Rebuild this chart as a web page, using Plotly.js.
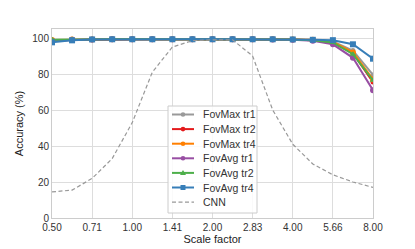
<!DOCTYPE html>
<html>
<head>
<meta charset="utf-8">
<script src="https://cdn.plot.ly/plotly-3.0.1.min.js"></script>
<style>html,body{margin:0;padding:0;background:#fff;}#chart{width:415px;height:249px;}</style>
</head>
<body>
<div id="chart"></div>
<script>
const scaleFactors = [0.5, 0.5946, 0.7071, 0.8409, 1.0, 1.1892, 1.4142, 1.6818, 2.0, 2.3784, 2.8284, 3.3636, 4.0, 4.7568, 5.6569, 6.7272, 8.0];
const tickVals = [0.5, 0.7071, 1.0, 1.4142, 2.0, 2.8284, 4.0, 5.6569, 8.0];
const tickText = ["0.50", "0.71", "1.00", "1.41", "2.00", "2.83", "4.00", "5.66", "8.00"];

const fovMaxTr1 = [98.5, 99.0, 99.2, 99.3, 99.3, 99.3, 99.3, 99.3, 99.3, 99.3, 99.3, 99.3, 99.2, 99.0, 98.0, 93.0, 79.5];
const fovMaxTr2 = [98.8, 99.0, 99.2, 99.3, 99.3, 99.3, 99.3, 99.3, 99.3, 99.3, 99.3, 99.2, 99.1, 98.8, 97.5, 91.5, 75.5];
const fovMaxTr4 = [98.9, 99.1, 99.2, 99.3, 99.3, 99.3, 99.3, 99.3, 99.3, 99.3, 99.3, 99.3, 99.2, 99.0, 97.8, 92.0, 77.0];
const fovAvgTr1 = [98.3, 99.0, 99.2, 99.3, 99.3, 99.3, 99.3, 99.3, 99.3, 99.3, 99.3, 99.2, 99.0, 98.5, 96.5, 89.0, 71.0];
const fovAvgTr2 = [99.0, 99.2, 99.3, 99.3, 99.3, 99.3, 99.3, 99.3, 99.3, 99.3, 99.3, 99.2, 99.1, 98.8, 97.5, 91.0, 76.5];
const fovAvgTr4 = [97.6, 98.7, 99.2, 99.3, 99.3, 99.3, 99.3, 99.3, 99.3, 99.3, 99.3, 99.3, 99.2, 99.0, 98.8, 96.5, 88.5];
const cnn = [14.5, 15.5, 22.0, 33.0, 53.0, 81.0, 95.0, 98.5, 99.0, 99.0, 90.0, 60.0, 41.0, 30.0, 24.0, 20.0, 17.0];

const series = [
  {name: "FovMax tr1", y: fovMaxTr1, color: "#999999", symbol: "circle", size: 5},
  {name: "FovMax tr2", y: fovMaxTr2, color: "#e41a1c", symbol: "circle", size: 5},
  {name: "FovMax tr4", y: fovMaxTr4, color: "#ff7f00", symbol: "circle", size: 6},
  {name: "FovAvg tr1", y: fovAvgTr1, color: "#984ea3", symbol: "circle", size: 6},
  {name: "FovAvg tr2", y: fovAvgTr2, color: "#4daf4a", symbol: "triangle-up", size: 6},
  {name: "FovAvg tr4", y: fovAvgTr4, color: "#377eb8", symbol: "square", size: 6}
];
const cnnStyle = {name: "CNN", color: "#999999", dash: "4px,2.5px"};

const traces = series.map(s => ({
  x: scaleFactors, y: s.y, name: s.name, type: "scatter", mode: "lines+markers",
  line: {color: s.color, width: 2},
  marker: {color: s.color, symbol: s.symbol, size: s.size},
  showlegend: false
}));
traces.push({
  x: scaleFactors, y: cnn, name: cnnStyle.name, type: "scatter", mode: "lines",
  line: {color: cnnStyle.color, width: 1.2, dash: cnnStyle.dash}, showlegend: false
});

// ---- custom legend (matplotlib-like compact spacing) ----
const W = 415, H = 249, ML = 52, MR = 42, MT = 29, MB = 31;
const PW = W - ML - MR, PH = H - MT - MB;
const px = v => (v - ML) / PW;
const py = v => (H - MB - v) / PH;
const legBox = {x0: 168, x1: 257, y0: 106, y1: 213};
const rowTop = 114.5, rowStep = 14.6;
const lineX0 = 172, lineX1 = 194, textX = 201;

const shapes = [{
  type: "rect", xref: "paper", yref: "paper", layer: "above",
  x0: px(legBox.x0), x1: px(legBox.x1), y0: py(legBox.y1), y1: py(legBox.y0),
  fillcolor: "rgba(255,255,255,0.85)", line: {color: "#cccccc", width: 1}
}];
const annotations = [];
const legendEntries = series.concat([{name: cnnStyle.name, color: cnnStyle.color, symbol: null}]);
legendEntries.forEach((e, i) => {
  const yy = py(rowTop + i * rowStep);
  shapes.push({
    type: "line", xref: "paper", yref: "paper", layer: "above",
    x0: px(lineX0), x1: px(lineX1), y0: yy, y1: yy,
    line: {color: e.color, width: e.symbol ? 2 : 1.2, dash: e.symbol ? "solid" : cnnStyle.dash}
  });
  const xc = px((lineX0 + lineX1) / 2);
  const base = {xref: "paper", yref: "paper", layer: "above", xsizemode: "pixel", ysizemode: "pixel",
    xanchor: xc, yanchor: yy, fillcolor: e.color, line: {color: e.color, width: 0}};
  if (e.symbol === "circle") {
    shapes.push(Object.assign({type: "circle", x0: -2.3, x1: 2.3, y0: -2.3, y1: 2.3}, base));
  } else if (e.symbol === "square") {
    shapes.push(Object.assign({type: "rect", x0: -2.5, x1: 2.5, y0: -2.5, y1: 2.5}, base));
  } else if (e.symbol === "triangle-up") {
    shapes.push(Object.assign({type: "path", path: "M -3,-2.2 L 3,-2.2 L 0,3 Z"}, base));
  }
  annotations.push({
    xref: "paper", yref: "paper", x: px(textX), y: yy, xanchor: "left", yanchor: "middle",
    text: e.name, showarrow: false, font: {size: 10.5, color: "#333333"}
  });
});

const layout = {
  width: W, height: H,
  margin: {l: ML, r: MR, t: MT, b: MB},
  paper_bgcolor: "#ffffff", plot_bgcolor: "#ffffff",
  font: {family: "Liberation Sans, Arial, sans-serif", size: 10, color: "#333333"},
  xaxis: {
    type: "log", range: [Math.log10(0.5), Math.log10(8)],
    tickvals: tickVals, ticktext: tickText,
    showgrid: true, gridcolor: "#dddddd", gridwidth: 1,
    showline: true, linecolor: "#cccccc", linewidth: 1, mirror: true,
    zeroline: false, ticks: "", ticklen: 0,
    title: {text: "Scale factor", font: {size: 11, color: "#222"}, standoff: 3},
    tickfont: {size: 10, color: "#333"}
  },
  yaxis: {
    range: [0, 105], tickvals: [0, 20, 40, 60, 80, 100],
    showgrid: true, gridcolor: "#dddddd", gridwidth: 1,
    showline: true, linecolor: "#cccccc", linewidth: 1, mirror: true,
    zeroline: false, ticks: "",
    title: {text: "Accuracy (%)", font: {size: 11, color: "#222"}, standoff: 6},
    tickfont: {size: 10, color: "#333"}
  },
  showlegend: false,
  shapes: shapes,
  annotations: annotations
};

Plotly.newPlot("chart", traces, layout, {displayModeBar: false, staticPlot: true});
</script>
</body>
</html>
